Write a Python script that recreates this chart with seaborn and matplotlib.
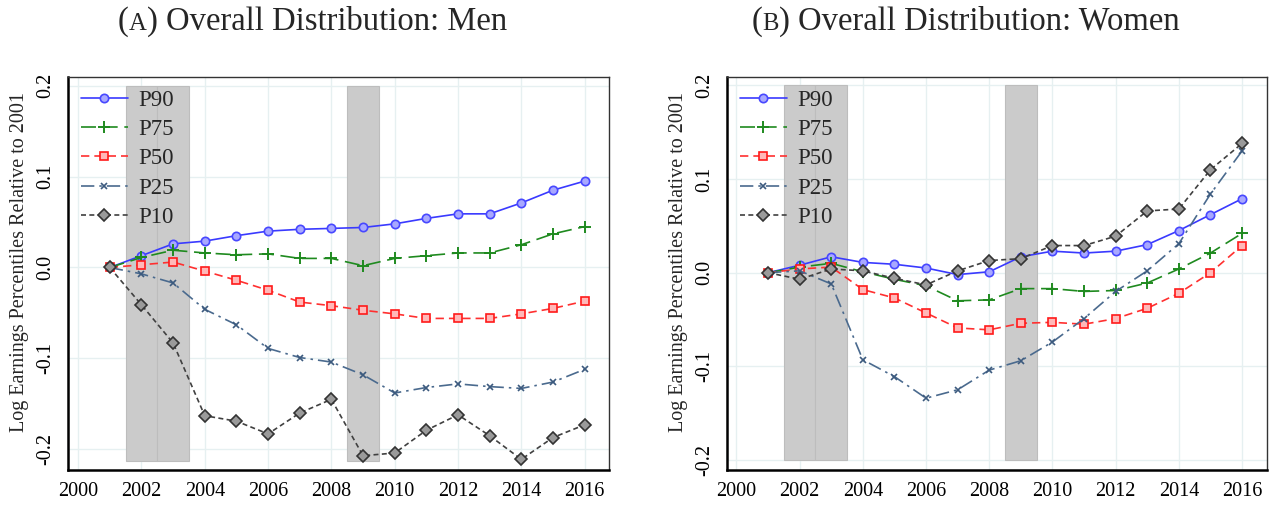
import numpy as np
import pandas as pd
import matplotlib
matplotlib.use("Agg")
import matplotlib.pyplot as plt
import seaborn as sns

# ---------------- data ----------------
years = list(range(2001, 2017))

men_p90 = [0.0, 0.013, 0.026, 0.029, 0.035, 0.040, 0.042, 0.043, 0.044, 0.048, 0.054, 0.059, 0.059, 0.071, 0.085, 0.095]
men_p75 = [0.0, 0.011, 0.019, 0.016, 0.014, 0.015, 0.010, 0.010, 0.002, 0.010, 0.013, 0.016, 0.016, 0.025, 0.037, 0.045]
men_p50 = [0.0, 0.003, 0.006, -0.004, -0.014, -0.025, -0.038, -0.042, -0.047, -0.051, -0.056, -0.056, -0.056, -0.051, -0.045, -0.037]
men_p25 = [0.0, -0.007, -0.017, -0.046, -0.063, -0.089, -0.099, -0.104, -0.118, -0.138, -0.132, -0.128, -0.131, -0.133, -0.126, -0.112]
men_p10 = [0.0, -0.041, -0.083, -0.163, -0.169, -0.183, -0.160, -0.145, -0.207, -0.204, -0.179, -0.162, -0.185, -0.211, -0.187, -0.173]

wom_p90 = [0.0, 0.008, 0.017, 0.011, 0.009, 0.005, -0.002, 0.001, 0.017, 0.023, 0.021, 0.023, 0.030, 0.045, 0.062, 0.079]
wom_p75 = [0.0, 0.006, 0.010, 0.001, -0.007, -0.014, -0.030, -0.029, -0.017, -0.017, -0.020, -0.019, -0.011, 0.004, 0.021, 0.042]
wom_p50 = [0.0, 0.004, 0.006, -0.018, -0.027, -0.043, -0.059, -0.061, -0.054, -0.053, -0.055, -0.049, -0.038, -0.022, 0.000, 0.029]
wom_p25 = [0.0, 0.002, -0.012, -0.093, -0.111, -0.134, -0.125, -0.104, -0.094, -0.074, -0.049, -0.020, 0.002, 0.031, 0.084, 0.130]
wom_p10 = [0.0, -0.007, 0.004, 0.002, -0.006, -0.013, 0.002, 0.013, 0.015, 0.029, 0.029, 0.039, 0.066, 0.068, 0.110, 0.138]

series_names = ["P90", "P75", "P50", "P25", "P10"]

# recession shading (year centers, width 1 year)
recession_years = [2002, 2003, 2009]
men_shade_range = (-0.2125, 0.2)
wom_shade_range = (-0.2, 0.2)

x_ticks = [2000, 2002, 2004, 2006, 2008, 2010, 2012, 2014, 2016]
y_ticks = [-0.2, -0.1, 0.0, 0.1, 0.2]
y_ticklabels = ["-0.2", "-0.1", "0.0", "0.1", "0.2"]

panel_letters = ["A", "B"]
panel_titles = [") Overall Distribution: Men", ") Overall Distribution: Women"]
ylabel_text = "Log Earnings Percentiles Relative to 2001"

# ---------------- style ----------------
sns.set_style("white")
plt.rcParams["font.family"] = ["Liberation Serif", "DejaVu Serif"]

styles = {
    "P90": dict(color="#3a3aff", marker="o", mfc="#a8a8ff", mec="#4848ff", ms=6, linestyle="-"),
    "P75": dict(color="#1f8a1f", marker="+", mfc="#1f8a1f", mec="#1f8a1f", ms=9, mew=1.4, linestyle=(0, (9, 4))),
    "P50": dict(color="#ff3030", marker="s", mfc="#ffb8b8", mec="#ff1a1a", ms=6, linestyle=(0, (5, 3))),
    "P25": dict(color="#4a6a8e", marker="x", mfc="#4a6a8e", mec="#3c5a7e", ms=5, mew=1.2, linestyle=(0, (8, 3, 1.5, 3))),
    "P10": dict(color="#404040", marker="D", mfc="#9a9a9a", mec="#333333", ms=6, linestyle=(0, (3, 2))),
}

W, H = 1271, 505
fig = plt.figure(figsize=(W / 100, H / 100), dpi=100)

ax_specs = [
    (68, 609, 77, 470, (1999.68, 2016.77), (-0.2227, 0.2095), men_shade_range,
     [men_p90, men_p75, men_p50, men_p25, men_p10]),
    (727, 1267, 77, 470, (1999.70, 2016.79), (-0.2107, 0.209), wom_shade_range,
     [wom_p90, wom_p75, wom_p50, wom_p25, wom_p10]),
]

axes = []
for (x0, x1, y0, y1, xl, yl, shade, vals) in ax_specs:
    ax = fig.add_axes([x0 / W, 1 - y1 / H, (x1 - x0) / W, (y1 - y0) / H])
    axes.append(ax)
    ax.set_xlim(*xl)
    ax.set_ylim(*yl)
    ax.set_xticks(x_ticks)
    ax.set_yticks(y_ticks)
    ax.set_yticklabels(y_ticklabels, rotation=90, va="center")
    ax.grid(True, color="#e6f0f1", linewidth=1.0, zorder=0)
    ax.set_axisbelow(True)
    # recession bars
    ax.bar(recession_years, shade[1] - shade[0], bottom=shade[0], width=1.0,
           color="#cbcbcb", edgecolor="#bdbdbd", linewidth=0.8, zorder=1)
    for name, v in zip(series_names, vals):
        st = dict(styles[name])
        sns.lineplot(x=years, y=v, ax=ax, label=name, zorder=3,
                     linewidth=1.2, markeredgewidth=st.pop("mew", 1.2), **st)
    ax.set_ylabel(ylabel_text, fontsize=14.5)
    ax.yaxis.set_label_coords(-0.072, 0.53)
    ax.set_xlabel("")
    ax.tick_params(axis="both", direction="out", length=6, width=1.4, labelsize=14.5,
                   colors="black", pad=3)
    for side in ["left", "bottom"]:
        ax.spines[side].set_linewidth(1.8)
        ax.spines[side].set_color("black")
    for side in ["top", "right"]:
        ax.spines[side].set_linewidth(1.0)
        ax.spines[side].set_color("#333333")
    leg = ax.legend(loc="upper left", frameon=False, fontsize=16.5, handlelength=2.05,
                    handletextpad=0.45, labelspacing=0.36, borderaxespad=0.25,
                    borderpad=0.3, bbox_to_anchor=(0.0, 1.0))

# ---------------- titles with small-cap letter ----------------
fig.canvas.draw()
renderer = fig.canvas.get_renderer()
title_size = 23.5
title_x = [118 / W, 752 / W]
title_y = 1 - 30 / H
for tx, letter, rest in zip(title_x, panel_letters, panel_titles):
    t1 = fig.text(tx, title_y, "(", fontsize=title_size, va="baseline", ha="left")
    bb = t1.get_window_extent(renderer)
    t2 = fig.text(bb.x1 / W, title_y, letter, fontsize=title_size * 0.76, va="baseline", ha="left")
    bb2 = t2.get_window_extent(renderer)
    fig.text(bb2.x1 / W, title_y, rest, fontsize=title_size, va="baseline", ha="left")

fig.savefig("out.png", dpi=100)
